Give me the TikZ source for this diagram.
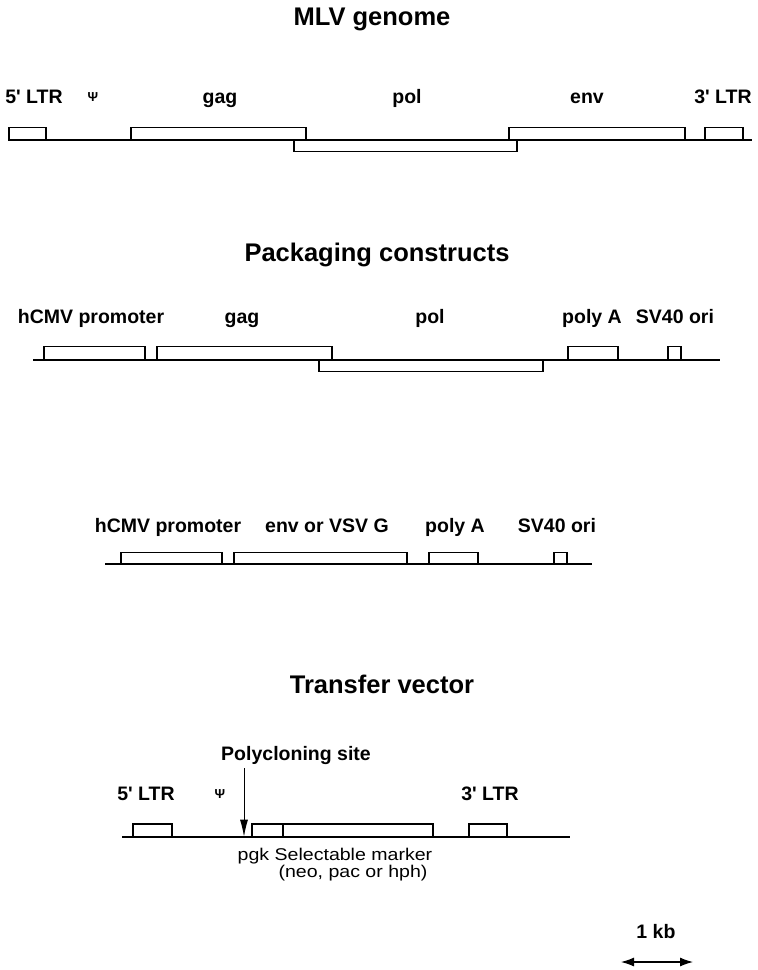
\documentclass[tikz,border=0pt]{standalone}
\usepackage{fontspec}
\setmainfont{Liberation Sans}
\newfontfamily\widesans[FakeStretch=1.15]{Liberation Sans}
\usetikzlibrary{positioning, arrows.meta, calc}

\newcommand{\prm}{\textquotesingle}

\begin{document}
\begin{tikzpicture}[
    x=1pt, y=-1pt,
    lbl/.style={font=\fontsize{19.5}{22}\selectfont\bfseries, anchor=base, inner sep=0pt},
    psi/.style={font=\fontsize{13}{14}\selectfont\bfseries, anchor=base, inner sep=0pt},
    ttl/.style={font=\fontsize{25.5}{28}\selectfont\bfseries, anchor=base, inner sep=0pt},
    note/.style={font=\widesans\fontsize{17}{19}\selectfont, anchor=base, inner sep=0pt},
    bb/.style={draw=black, line width=1.6pt},
    seg/.style={draw=black, line width=1.2pt},
    pcsarrow/.style={-{Latex[length=17pt, width=8pt]}, line width=1pt},
    scalebar/.style={{Latex[length=13pt, width=9pt]}-{Latex[length=13pt, width=9pt]}, line width=1.1pt},
]
\useasboundingbox (0,0) rectangle (758,970);

% --- MLV genome ---
\node[ttl] (mlv) at (372,25) {MLV genome};
\node[lbl] (ltr5) at (34,103)  {5\prm{} LTR};
\node[psi] (psi1) at (93,101)  {Ψ};
\node[lbl] (gag1) at (220,103) {gag};
\node[lbl] (pol1) at (407,103) {pol};
\node[lbl] (env1) at (587,103) {env};
\node[lbl] (ltr3) at (723,103) {3\prm{} LTR};

\draw[bb] (10,140) -- (752,140);
\foreach \a/\b in {9/46, 131/306, 509/685, 705/743}
    \draw[seg] (\a,127.5) rectangle (\b,140);
\draw[seg] (294,140) rectangle (517,151.7);

% --- Packaging constructs ---
\node[ttl] (pack) at (377,261) {Packaging constructs};
\node[lbl] (cmv2) at (91,323)  {hCMV promoter};
\node[lbl] (gag2) at (242,323) {gag};
\node[lbl] (pol2) at (430,323) {pol};
\node[lbl] (pa2)  at (592,323) {poly A};
\node[lbl] (ori2) at (675,323) {SV40 ori};

\draw[bb] (33,360) -- (720,360);
\foreach \a/\b in {44/145, 157/332, 568/618, 668/681}
    \draw[seg] (\a,346.5) rectangle (\b,360);
\draw[seg] (319,360) rectangle (543,371.7);

% --- env construct ---
\node[lbl] (cmv3) at (168,532) {hCMV promoter};
\node[lbl] (env3) at (327,532) {env or VSV G};
\node[lbl] (pa3)  at (455,532) {poly A};
\node[lbl] (ori3) at (557,532) {SV40 ori};

\draw[bb] (105,564) -- (592,564);
\foreach \a/\b in {121/222, 234/407, 429/478, 554/567}
    \draw[seg] (\a,552.5) rectangle (\b,564);

% --- Transfer vector ---
\node[ttl] (tv) at (382,693) {Transfer vector};
\node[lbl] (pcs)   at (296,760) {Polycloning site};
\node[lbl] (ltr5t) at (146,800) {5\prm{} LTR};
\node[psi] (psi4)  at (220,798) {Ψ};
\node[lbl] (ltr3t) at (490,800) {3\prm{} LTR};

\draw[bb] (122,836.7) -- (570,836.7);
\foreach \a/\b in {133/172, 252/283, 283/433, 469/507}
    \draw[seg] (\a,824) rectangle (\b,836.7);

\coordinate (cut) at (244,836.7);
\draw[pcsarrow] (cut |- pcs.south) ++(0,4) -- (cut);

\node[note] (marker) at (335,860) {pgk Selectable marker};
\node[note] (markernote) at (353,877) {(neo, pac or hph)};

% --- Scale bar ---
\node[lbl] (kb) at (656,938) {1 kb};
\coordinate (kbL) at (621,962);
\coordinate (kbR) at (693,962);
\draw[scalebar] (kbL) -- (kbR);

\end{tikzpicture}
\end{document}
